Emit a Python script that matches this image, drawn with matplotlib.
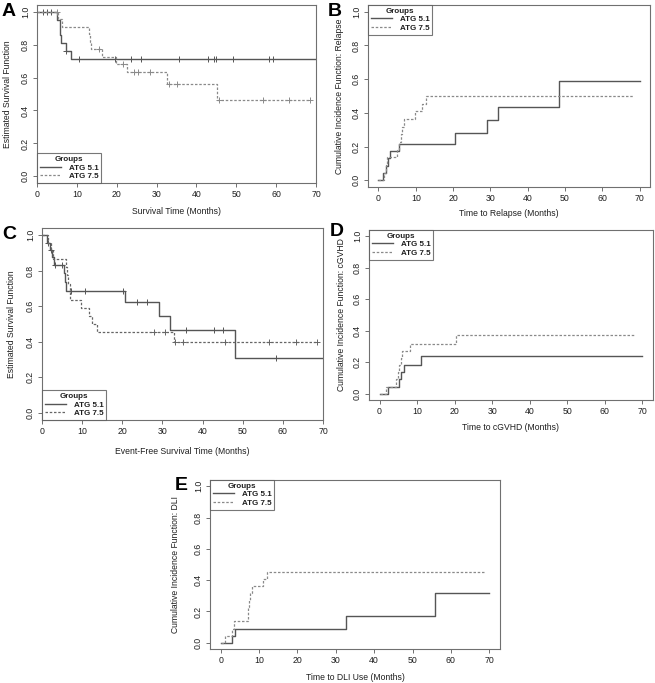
import numpy as np
import matplotlib
matplotlib.use("Agg")
import matplotlib.pyplot as plt

plt.rcParams['font.family'] = ['Liberation Sans', 'DejaVu Sans']

# ---- data ----
# A: overall survival (Kaplan-Meier)
a51_t = [0, 5.0, 5.8, 6.1, 7.3, 8.6]
a51_s = [1.0, 0.952, 0.857, 0.810, 0.762, 0.714]
a51_end = 70
a51_cens = [1.4, 2.4, 3.4, 7.4, 10.5, 19.6, 23.5, 26.0, 35.7, 42.8, 44.3, 44.8, 49.3, 58.3, 59.1]
a75_t = [0, 5.3, 6.2, 13.0, 13.3, 13.6, 16.2, 19.7, 22.6, 32.6, 45.2]
a75_s = [1.0, 0.955, 0.909, 0.864, 0.818, 0.773, 0.727, 0.682, 0.633, 0.559, 0.466]
a75_end = 68.5
a75_cens = [5.0, 15.6, 21.5, 24.4, 25.4, 28.3, 33.2, 35.0, 45.7, 56.6, 63.3, 68.5]

# B: cumulative incidence of relapse
b51_t = [0, 1.1, 2.0, 2.5, 3.0, 5.6, 20.6, 29.2, 32.0, 48.3]
b51_s = [0, 0.043, 0.087, 0.130, 0.174, 0.218, 0.280, 0.358, 0.437, 0.590]
b51_end = 70
b75_t = [0, 1.6, 1.9, 2.3, 5.0, 5.5, 6.0, 6.4, 6.8, 9.9, 11.8, 12.8]
b75_s = [0, 0.045, 0.091, 0.136, 0.182, 0.227, 0.273, 0.318, 0.364, 0.409, 0.455, 0.500]
b75_end = 68.5

# C: event-free survival (Kaplan-Meier)
c51_t = [0, 1.3, 2.0, 2.6, 3.0, 5.4, 5.7, 6.0, 20.8, 29.2, 31.9, 48.2]
c51_s = [1.0, 0.958, 0.917, 0.875, 0.833, 0.787, 0.735, 0.684, 0.624, 0.547, 0.468, 0.310]
c51_end = 70
c51_cens = [1.5, 2.25, 3.3, 5.0, 7.1, 10.6, 20.2, 23.75, 26.1, 35.8, 42.9, 45.0, 58.3]
c75_t = [0, 1.5, 2.2, 2.8, 6.0, 6.3, 6.6, 7.0, 9.8, 11.8, 12.5, 13.8, 32.9]
c75_s = [1.0, 0.955, 0.909, 0.864, 0.818, 0.773, 0.727, 0.636, 0.591, 0.545, 0.500, 0.455, 0.398]
c75_end = 68.5
c75_cens = [27.9, 30.7, 33.2, 35.1, 45.6, 56.6, 63.3, 68.4]

# D: cumulative incidence of cGVHD
d51_t = [0, 2.2, 5.3, 5.6, 6.5, 11.0]
d51_s = [0, 0.045, 0.091, 0.136, 0.182, 0.239]
d51_end = 70
d75_t = [0, 1.6, 4.4, 4.8, 5.2, 5.7, 6.1, 8.2, 20.3]
d75_s = [0, 0.045, 0.091, 0.136, 0.182, 0.227, 0.273, 0.318, 0.371]
d75_end = 68

# E: cumulative incidence of DLI use
e51_t = [0, 3.0, 3.8, 32.6, 55.8]
e51_s = [0, 0.043, 0.089, 0.174, 0.318]
e51_end = 70
e75_t = [0, 1.2, 3.0, 3.4, 7.0, 7.2, 7.4, 7.7, 8.1, 11.0, 12.1]
e75_s = [0, 0.045, 0.091, 0.136, 0.182, 0.227, 0.273, 0.318, 0.364, 0.409, 0.455]
e75_end = 68.5

groups = ['ATG 5.1', 'ATG 7.5']

SOLID = '#555555'
DASH = '#8a8a8a'
FRAME = '#707070'
TXT = '#1e1e1e'

W, H = 655, 683
fig = plt.figure(figsize=(W / 100, H / 100), dpi=100)


def px_axes(left, top, right, bottom):
    return fig.add_axes([left / W, 1 - bottom / H, (right - left) / W, (bottom - top) / H])


def step_val(t, s, x):
    i = np.searchsorted(t, x, side='right') - 1
    return np.asarray(s)[i]


def draw_curve(ax, t, s, end, style, color, lw, cens=None):
    tt = list(t) + [end]
    ss = list(s) + [s[-1]]
    line, = ax.step(tt, ss, where='post', color=color, lw=lw, linestyle=style)
    if cens is not None:
        cy = step_val(t, s, np.array(cens))
        ax.plot(cens, cy, linestyle='none', marker='+', ms=4, mew=0.7, color=color)
    return line


def style_axes(ax, xlabel, ylabel, xoff, yoff, pad_x=True):
    # xoff / yoff: distance in pixels from the axes edge to the label centre
    if pad_x:
        ax.set_xlim(-2.8, 72.8)
    else:
        ax.set_xlim(0, 70)
    ax.set_ylim(-0.04, 1.04)
    ax.set_xticks(np.arange(0, 71, 10))
    ax.set_yticks([0, 0.2, 0.4, 0.6, 0.8, 1.0])
    ax.set_yticklabels(['0.0', '0.2', '0.4', '0.6', '0.8', '1.0'], rotation=90, va='center')
    ax.tick_params(direction='out', length=3, width=0.7, colors=FRAME, labelcolor=TXT,
                   labelsize=6.3, pad=2)
    for sp in ax.spines.values():
        sp.set_color(FRAME)
        sp.set_linewidth(0.8)
    ax.set_xlabel(xlabel, fontsize=6.2, color=TXT, va='center')
    ax.set_ylabel(ylabel, fontsize=6.2, color=TXT, va='center')
    bb = ax.get_position()
    ax.xaxis.set_label_coords(0.5, -yoff / (bb.height * H))
    ax.yaxis.set_label_coords(-xoff / (bb.width * W), 0.5)


def add_legend(ax, handles, loc):
    leg = ax.legend(handles, groups, title='Groups', loc=loc, fontsize=5.8, title_fontsize=5.8,
                    frameon=True, fancybox=False, borderaxespad=0, handlelength=2.6,
                    handletextpad=1.0, borderpad=0.35, labelspacing=0.1,
                    alignment='center')
    leg.get_frame().set_edgecolor('#555555')
    leg.get_frame().set_linewidth(0.8)
    leg.get_title().set_fontweight('bold')
    leg.get_title().set_color(TXT)
    for txt in leg.get_texts():
        txt.set_fontweight('bold')
        txt.set_color(TXT)


dash = (0, (2, 1.4))

# ---- panel A ----
axA = px_axes(37, 5, 316, 183)
hA = [draw_curve(axA, a51_t, a51_s, a51_end, '-', SOLID, 1.0, a51_cens),
      draw_curve(axA, a75_t, a75_s, a75_end, dash, DASH, 0.9, a75_cens)]
style_axes(axA, 'Survival Time (Months)', 'Estimated Survival Function', 29, 28, pad_x=False)
add_legend(axA, hA, 'lower left')

# ---- panel B ----
axB = px_axes(368, 5, 650, 187)
hB = [draw_curve(axB, b51_t, b51_s, b51_end, '-', SOLID, 1.0),
      draw_curve(axB, b75_t, b75_s, b75_end, dash, DASH, 0.9)]
style_axes(axB, 'Time to Relapse (Months)', 'Cumulative Incidence Function: Relapse', 28, 27)
add_legend(axB, hB, 'upper left')

# ---- panel C ----
axC = px_axes(42, 228, 323, 420)
hC = [draw_curve(axC, c51_t, c51_s, c51_end, '-', SOLID, 1.0, c51_cens),
      draw_curve(axC, c75_t, c75_s, c75_end, dash, '#666666', 0.9, c75_cens)]
style_axes(axC, 'Event-Free Survival Time (Months)', 'Estimated Survival Function', 30, 31,
           pad_x=False)
add_legend(axC, hC, 'lower left')

# ---- panel D ----
axD = px_axes(369, 230, 653, 400)
hD = [draw_curve(axD, d51_t, d51_s, d51_end, '-', SOLID, 1.0),
      draw_curve(axD, d75_t, d75_s, d75_end, dash, DASH, 0.9)]
style_axes(axD, 'Time to cGVHD (Months)', 'Cumulative Incidence Function: cGVHD', 27, 28)
add_legend(axD, hD, 'upper left')

# ---- panel E ----
axE = px_axes(210, 480, 500, 649)
hE = [draw_curve(axE, e51_t, e51_s, e51_end, '-', SOLID, 1.0),
      draw_curve(axE, e75_t, e75_s, e75_end, dash, DASH, 0.9)]
style_axes(axE, 'Time to DLI Use (Months)', 'Cumulative Incidence Function: DLI', 35, 28)
add_legend(axE, hE, 'upper left')

# panel letters
for letter, (x, y) in {'A': (2, 12), 'B': (328, 12), 'C': (2, 234), 'D': (330, 232), 'E': (175, 485)}.items():
    fig.text(x / W, 1 - y / H, letter, fontsize=14, fontweight='bold', color='black',
             ha='left', va='center')

fig.savefig('out.png', dpi=100, facecolor='white')
